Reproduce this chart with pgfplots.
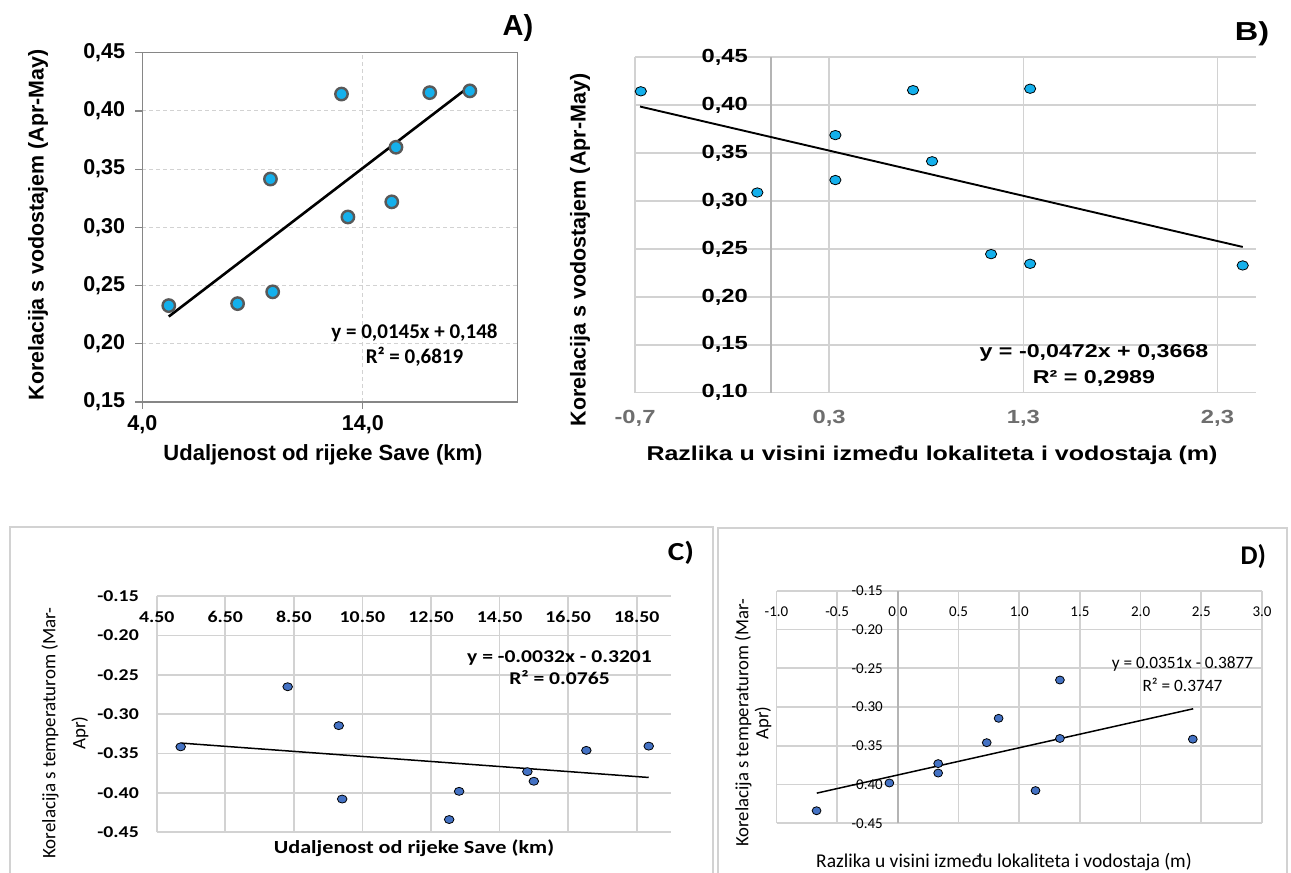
\documentclass[border=0pt]{standalone}
\usepackage{fontspec}
\setmainfont{Liberation Sans}
\newfontfamily\arialS[FakeStretch=1.25]{Liberation Sans}
\newfontfamily\calib{Carlito}
\newfontfamily\calibS[FakeStretch=1.2]{Carlito}
\usepackage{pgfplots}
\usepackage{pgfplotstable}
\pgfplotsset{compat=1.18}

\definecolor{cyanA}{RGB}{20,176,236}
\definecolor{rimA}{RGB}{89,89,89}
\definecolor{gridc}{RGB}{210,210,210}
\definecolor{axc}{RGB}{180,180,180}
\definecolor{blueC}{RGB}{68,114,196}
\definecolor{tickB}{RGB}{110,110,110}
\definecolor{boxA}{RGB}{134,134,134}

% dist = distance from Sava (km), diff = height difference (m),
% H = correlation with water level (Apr-May), T = correlation with temperature (Mar-Apr)
\pgfplotstableread{
dist  diff   H       T
5.20  2.430  0.2328  -0.3415
8.32  1.335  0.2345  -0.2652
9.91  1.134  0.2446  -0.4078
9.81  0.830  0.3415  -0.3146
13.03 -0.670 0.4145  -0.4338
13.32 -0.070 0.3089  -0.3980
15.31 0.332  0.3219  -0.3730
15.50 0.332  0.3688  -0.3852
17.03 0.732  0.4157  -0.3460
18.85 1.335  0.4172  -0.3406
}\sites

\begin{document}
\begin{tikzpicture}
\useasboundingbox (0pt,0pt) rectangle (1291pt,873pt);
\fill[white] (0pt,0pt) rectangle (1291pt,873pt);

% panel frames (bottom row)
\draw[gridc, line width=1.2pt] (10pt,-2pt) -- (10pt,346pt) -- (713pt,346pt) -- (713pt,-2pt);
\draw[gridc, line width=1.2pt] (718pt,-2pt) -- (718pt,345pt) -- (1287pt,345pt) -- (1287pt,-2pt);

% ---------------- Panel A ----------------
\begin{axis}[
  at={(142.3pt,471pt)}, anchor=south west, scale only axis,
  width=375pt, height=349.3pt,
  xmin=4, xmax=21, ymin=0.15, ymax=0.45,
  xtick={4,14}, xticklabels={{4,0},{14,0}},
  ytick={0.15,0.2,0.25,0.3,0.35,0.4,0.45},
  yticklabels={{0,15},{0,20},{0,25},{0,30},{0,35},{0,40},{0,45}},
  axis line style={boxA, line width=1.2pt},
  tick align=outside, tick pos=left, major tick length=7pt,
  tick style={boxA, line width=1.2pt},
  grid=major, major grid style={gridc, dash pattern=on 4pt off 3pt, line width=0.9pt},
  ticklabel style={font=\fontsize{21.5}{25}\selectfont\bfseries},
  xticklabel style={anchor=center, yshift=-16pt},
  yticklabel style={anchor=east, inner sep=0pt, xshift=-10pt},
]
\addplot[only marks, mark=*, mark size=6.2pt,
  mark options={fill=cyanA, draw=rimA, line width=2.4pt}]
  table[x=dist, y=H]{\sites};
\addplot[black, line width=2.6pt] coordinates {(5.20,0.2234) (18.85,0.4213)};
\end{axis}

% ---------------- Panel B ----------------
\begin{axis}[
  at={(635pt,480.3pt)}, anchor=south west, scale only axis,
  width=621.3pt, height=335.4pt,
  xmin=-0.7, xmax=2.5, ymin=0.10, ymax=0.45,
  xtick={-0.7,0.3,1.3,2.3}, xticklabels={{-0,7},{0,3},{1,3},{2,3}},
  ytick={0.1,0.15,0.2,0.25,0.3,0.35,0.4,0.45},
  yticklabels={{0,10},{0,15},{0,20},{0,25},{0,30},{0,35},{0,40},{0,45}},
  axis line style={draw=none}, major tick length=0pt,
  grid=major, major grid style={gridc, line width=1.6pt},
  ticklabel style={font=\arialS\fontsize{19}{22}\selectfont\bfseries},
  xticklabel style={text=tickB, anchor=center, yshift=-25.3pt},
  yticklabel style={anchor=east, inner sep=0pt, xshift=113pt},
]
\draw[axc, line width=1.6pt] (axis cs:0,0.10) -- (axis cs:0,0.45);
\addplot[only marks, mark=*, mark size=4.7pt,
  mark options={fill=cyanA, draw=black, line width=0.8pt, xscale=1.2}]
  table[x=diff, y=H]{\sites};
\addplot[black, line width=1.9pt] coordinates {(-0.674,0.3986) (2.43,0.2521)};
\end{axis}

% ---------------- Panel C ----------------
\begin{axis}[
  at={(156.7pt,40.7pt)}, anchor=south west, scale only axis,
  width=514.3pt, height=236.3pt,
  xmin=4.5, xmax=19.5, ymin=-0.45, ymax=-0.15,
  xtick={4.5,6.5,8.5,10.5,12.5,14.5,16.5,18.5},
  xticklabels={4.50,6.50,8.50,10.50,12.50,14.50,16.50,18.50},
  ytick={-0.45,-0.4,-0.35,-0.3,-0.25,-0.2,-0.15},
  yticklabels={-0.45,-0.40,-0.35,-0.30,-0.25,-0.20,-0.15},
  axis line style={draw=none}, major tick length=0pt,
  grid=major, major grid style={gridc, line width=1.7pt},
  ticklabel style={font=\calibS\fontsize{16.5}{19}\selectfont\bfseries},
  xticklabel style={anchor=center, yshift=215.6pt},
  yticklabel style={anchor=east, inner sep=0pt, xshift=-17.7pt},
]
\addplot[only marks, mark=*, mark size=4pt,
  mark options={fill=blueC, draw=black, line width=0.8pt, xscale=1.2}]
  table[x=dist, y=T]{\sites};
\addplot[black, line width=1.5pt] coordinates {(5.20,-0.3367) (18.85,-0.3804)};
\end{axis}

% ---------------- Panel D ----------------
\begin{axis}[
  at={(776.5pt,49.7pt)}, anchor=south west, scale only axis,
  width=485.5pt, height=232.6pt,
  xmin=-1, xmax=3, ymin=-0.45, ymax=-0.15,
  xtick={-1,-0.5,0,0.5,1,1.5,2,2.5,3},
  xticklabels={-1.0,-0.5,0.0,0.5,1.0,1.5,2.0,2.5,3.0},
  ytick={-0.45,-0.4,-0.35,-0.3,-0.25,-0.2,-0.15},
  yticklabels={-0.45,-0.40,-0.35,-0.30,-0.25,-0.20,-0.15},
  axis line style={draw=none}, major tick length=0pt,
  grid=major, major grid style={gridc, line width=1.7pt},
  ticklabel style={font=\calib\fontsize{15}{17}\selectfont},
  xticklabel style={anchor=center, yshift=211.6pt},
  yticklabel style={anchor=east, inner sep=0pt, xshift=106.5pt},
]
\draw[axc, line width=1.7pt] (axis cs:0,-0.45) -- (axis cs:0,-0.15);
\addplot[only marks, mark=*, mark size=4pt,
  mark options={fill=blueC, draw=black, line width=0.8pt, xscale=1.1}]
  table[x=diff, y=T]{\sites};
\addplot[black, line width=1.5pt] coordinates {(-0.668,-0.4111) (2.433,-0.3023)};
\end{axis}

% ---------------- Texts ----------------
% A
\node[rotate=90, font=\fontsize{21.4}{25}\selectfont\bfseries] at (38pt,648pt) {Korelacija s vodostajem (Apr-May)};
\node[font=\fontsize{22}{26}\selectfont\bfseries] at (323pt,418pt) {Udaljenost od rijeke Save (km)};
\node[align=center, font=\calib\fontsize{21}{25}\selectfont\bfseries] at (414.5pt,528pt) {y = 0,0145x + 0,148\\R² = 0,6819};
\node[font=\fontsize{29}{32}\selectfont\bfseries] at (518pt,845pt) {A)};
% B
\node[rotate=90, font=\fontsize{21.5}{25}\selectfont\bfseries] at (580pt,623pt) {Korelacija s vodostajem (Apr-May)};
\node[font=\arialS\fontsize{20}{24}\selectfont\bfseries] at (932pt,418pt) {Razlika u visini između lokaliteta i vodostaja (m)};
\node[align=center, font=\arialS\fontsize{18.6}{26}\selectfont\bfseries] at (1094pt,508pt) {y = -0,0472x + 0,3668\\R² = 0,2989};
\node[font=\arialS\fontsize{26}{30}\selectfont\bfseries] at (1252pt,839.7pt) {B)};
% C
\node[rotate=90, align=center, font=\calib\fontsize{19}{30}\selectfont] at (65pt,140pt) {Korelacija s temperaturom (Mar-\\Apr)};
\node[font=\calibS\fontsize{18.5}{22}\selectfont\bfseries] at (414pt,25pt) {Udaljenost od rijeke Save (km)};
\node[align=center, font=\calibS\fontsize{18}{22}\selectfont\bfseries] at (559.5pt,205pt) {y = -0.0032x - 0.3201\\R² = 0.0765};
\node[font=\calibS\fontsize{26}{30}\selectfont\bfseries] at (681pt,320pt) {C)};
% D
\node[rotate=90, align=center, font=\calib\fontsize{18.7}{20}\selectfont] at (753pt,150pt) {Korelacija s temperaturom (Mar-\\Apr)};
\node[font=\calib\fontsize{19.5}{23}\selectfont] at (1004pt,11pt) {Razlika u visini između lokaliteta i vodostaja (m)};
\node[align=center, font=\calib\fontsize{17.3}{22.7}\selectfont] at (1182.5pt,198.7pt) {y = 0.0351x - 0.3877\\R² = 0.3747};
\node[font=\calib\fontsize{27}{30}\selectfont\bfseries] at (1253.3pt,316.3pt) {D)};
\end{tikzpicture}
\end{document}
